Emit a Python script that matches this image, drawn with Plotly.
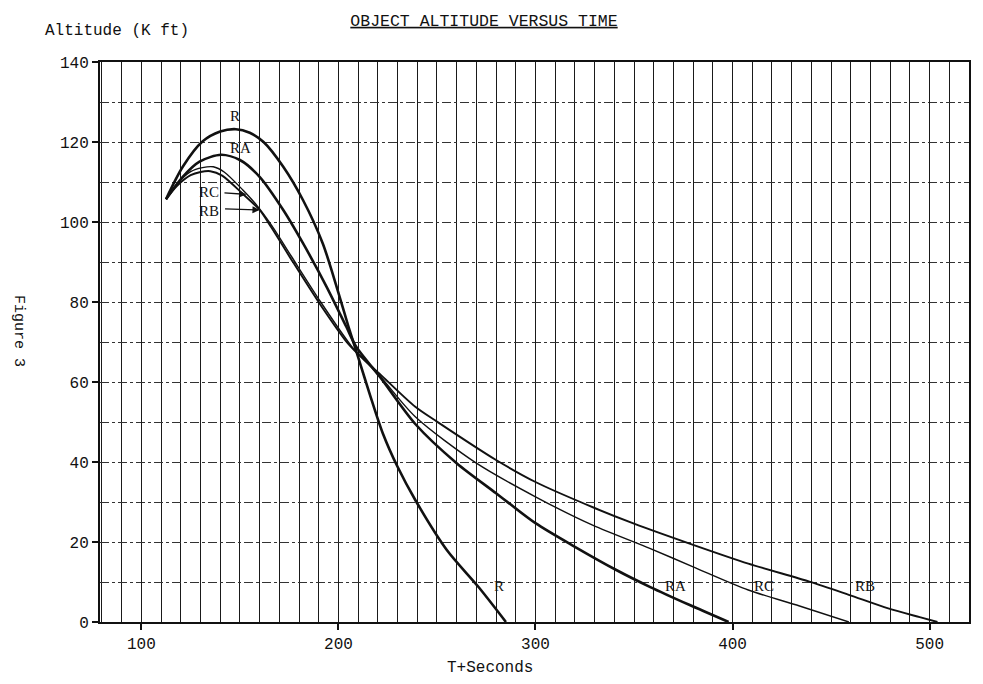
import plotly.graph_objects as go

# ---- data ----
t_R = [112.5, 121, 131, 140, 148, 155, 162, 172, 182, 192, 200, 205, 210, 216, 222.5, 230, 239, 255, 271, 285]
alt_R = [105.7, 113.8, 120.1, 122.6, 123.2, 122.3, 120.0, 113.8, 105.5, 94.7, 82.3, 74.0, 66.2, 56.8, 47.2, 38.8, 30.5, 18.0, 8.8, 0.0]

t_RA = [112.5, 121, 129.5, 140.5, 150, 160, 172, 182, 194, 204, 209, 221, 239, 260, 280, 300, 320, 341, 358, 378, 398]
alt_RA = [105.7, 111.3, 115.1, 116.8, 115.5, 111.3, 103.0, 94.7, 83.8, 73.8, 68.8, 61.3, 49.5, 39.7, 32.2, 24.7, 18.8, 13.0, 8.8, 4.3, 0.0]

t_RC = [112.5, 118, 125, 131, 136.5, 142, 151.5, 158, 166, 176, 191, 205, 209, 221, 239, 270, 300, 329, 358, 380, 408, 434, 459]
alt_RC = [105.7, 109.5, 112.6, 113.6, 113.8, 112.5, 108.0, 104.5, 99.2, 91.5, 80.0, 70.0, 67.5, 61.5, 51.3, 39.7, 31.3, 24.2, 18.4, 13.8, 8.0, 4.0, 0.0]

t_RB = [112.5, 118, 125, 130, 135, 141, 151.5, 160, 166, 176, 191, 205, 209, 221, 239, 250, 280, 300, 330, 350, 380, 408, 439, 459, 479, 495, 504]
alt_RB = [105.7, 109.0, 111.7, 112.5, 112.7, 111.6, 107.0, 103.0, 98.6, 90.7, 79.2, 69.5, 67.5, 62.0, 53.8, 50.1, 40.5, 35.0, 28.5, 24.6, 19.3, 14.6, 10.1, 6.8, 3.4, 1.2, 0.0]

x_ticks = [100, 200, 300, 400, 500]
y_ticks = [0, 20, 40, 60, 80, 100, 120, 140]

series = [
    ("R", t_R, alt_R, 2.6),
    ("RA", t_RA, alt_RA, 2.6),
    ("RC", t_RC, alt_RC, 1.4),
    ("RB", t_RB, alt_RB, 1.9),
]

MONO = "Liberation Mono"
LETTER = "Liberation Serif"

# the page puts the figure 8px in from the top-left corner
W, H = 975, 676
PL, PR, PT, PB = 92, 14, 54, 62
PW, PH = W - PL - PR, H - PT - PB


def px(sx):
    """screen x of reference -> paper x"""
    return (sx - 8 - PL) / PW


def py(sy):
    """screen y of reference -> paper y"""
    return (H - PB - (sy - 8)) / PH


fig = go.Figure()
for name, t, a, w in series:
    fig.add_trace(go.Scatter(x=t, y=a, mode="lines", name=name,
                             line=dict(color="#111111", width=w, shape="spline", smoothing=0.8),
                             showlegend=False, hoverinfo="skip"))

# curve labels
labels = [
    ("R", 147.3, 126.5), ("RA", 150.5, 118.5),
    ("R", 281.6, 9), ("RA", 371.2, 9), ("RC", 416, 9), ("RB", 467.4, 9),
]
for txt, x, y in labels:
    fig.add_annotation(x=x, y=y, text=txt, showarrow=False,
                       font=dict(family=LETTER, size=15, color="#111"))

# labels with arrows
for txt, tx, ty, tailx, taily, tipx, tipy in [
    ("RC", 134.2, 107.4, 141.4, 107.3, 153.2, 106.9),
    ("RB", 134.2, 102.8, 141.7, 103.3, 160.0, 103.0),
]:
    fig.add_annotation(x=tx, y=ty, text=txt, showarrow=False,
                       font=dict(family=LETTER, size=15, color="#111"))
    fig.add_annotation(x=tipx, y=tipy, ax=tailx, ay=taily, axref="x", ayref="y",
                       text="", showarrow=True, arrowhead=2, arrowsize=1.1,
                       arrowwidth=1.3, arrowcolor="#111")

fig.update_layout(
    width=W, height=H,
    margin=dict(l=PL, r=PR, t=PT, b=PB),
    paper_bgcolor="white", plot_bgcolor="white",
    title=dict(text="<u>OBJECT ALTITUDE VERSUS TIME</u>", x=(484 - 8) / W, xanchor="center",
               y=1 - (20 - 8) / H, yanchor="middle",
               font=dict(family=MONO, size=16.5, color="#111")),
    xaxis=dict(range=[79, 520], tickvals=x_ticks, ticktext=[str(v) for v in x_ticks],
               ticks="outside", ticklen=6, tickwidth=2, tickcolor="#111",
               showline=True, linecolor="#111", linewidth=2, mirror=True,
               showgrid=True, gridcolor="#1a1a1a", gridwidth=1.4,
               minor=dict(dtick=10, tick0=0, showgrid=True, gridcolor="#1a1a1a", gridwidth=1.4),
               zeroline=False,
               tickfont=dict(family=MONO, size=16, color="#111")),
    yaxis=dict(range=[0, 140], tickvals=y_ticks, ticktext=[str(v) for v in y_ticks],
               ticks="outside", ticklen=6, tickwidth=2, tickcolor="#111",
               showline=True, linecolor="#111", linewidth=2, mirror=True,
               showgrid=True, gridcolor="#333", gridwidth=1.1, griddash="dashdot",
               minor=dict(dtick=10, tick0=0, showgrid=True, gridcolor="#333",
                          gridwidth=1.1, griddash="dashdot"),
               zeroline=False,
               tickfont=dict(family=MONO, size=16, color="#111")),
)

# axis titles and side label
fig.add_annotation(xref="paper", yref="paper", x=px(117), y=py(31),
                   text="Altitude (K ft)", showarrow=False, xanchor="center", yanchor="middle",
                   font=dict(family=MONO, size=16, color="#111"))
fig.add_annotation(xref="paper", yref="paper", x=px(490), y=py(668),
                   text="T+Seconds", showarrow=False, xanchor="center", yanchor="middle",
                   font=dict(family=MONO, size=16, color="#111"))
fig.add_annotation(xref="paper", yref="paper", x=px(19), y=py(331),
                   text="Figure 3", showarrow=False, textangle=90, xanchor="center", yanchor="middle",
                   font=dict(family=MONO, size=15, color="#111"))

fig.write_html("out.html")
